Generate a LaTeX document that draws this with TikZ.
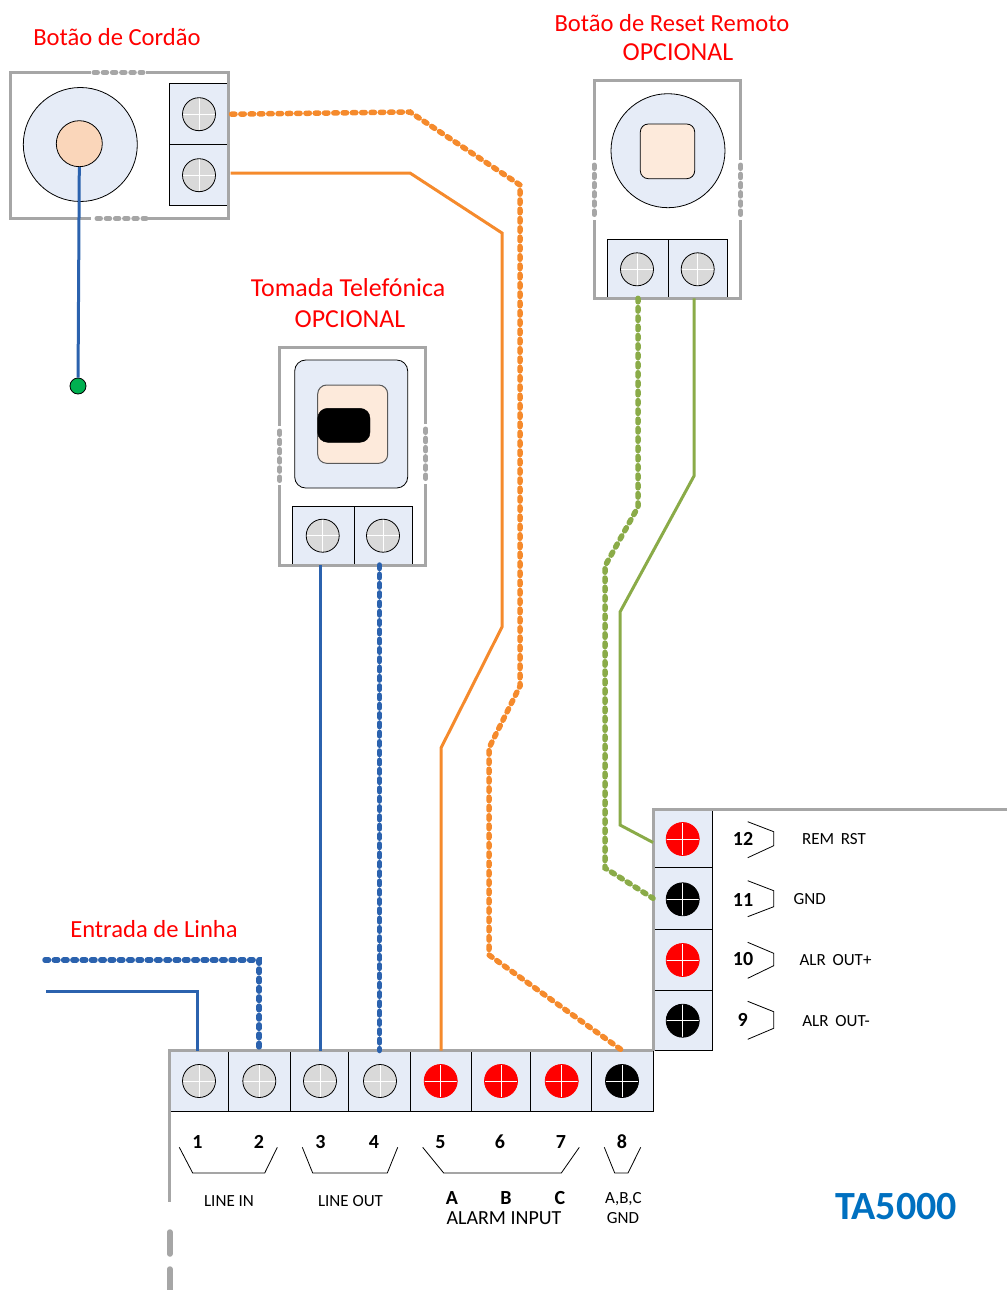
\documentclass[tikz,border=0pt]{standalone}
\usepackage{fontspec}
\setmainfont{Carlito}
\definecolor{framegray}{HTML}{A6A6A6}
\definecolor{panelblue}{HTML}{E6ECF7}
\definecolor{knobpeach}{HTML}{FAD6BA}
\definecolor{palepeach}{HTML}{FDEADB}
\definecolor{screwgray}{HTML}{D9D9D9}
\definecolor{wireorange}{HTML}{F58A2C}
\definecolor{wireblue}{HTML}{2B62AE}
\definecolor{wiregreen}{HTML}{8AAB48}
\definecolor{brandblue}{HTML}{0070C0}
\definecolor{dotgreen}{HTML}{00B050}
\tikzset{
	frame/.style={line width=3pt, color=framegray},
	hinge/.style={line width=5pt, line cap=round, dash pattern=on 3.5pt off 5.7pt, color=framegray},
	solidwire/.style={line width=3pt},
	dotwire/.style={line width=5.5pt, line cap=round, dash pattern=on 3.5pt off 5.8pt},
	termbox/.style={draw=black, line width=0.8pt, fill=panelblue, minimum width=#1, minimum height=61, inner sep=0, outer sep=0},
	screw/.style={circle, draw=black, line width=0.8pt, fill=screwgray, minimum size=33, inner sep=0, path picture={
		\draw[white, line width=0.8pt] (path picture bounding box.north) -- (path picture bounding box.south);
		\draw[white, line width=0.8pt] (path picture bounding box.west) -- (path picture bounding box.east);}},
	redscrew/.style={screw, draw=red, fill=red},
	blackscrew/.style={screw, fill=black},
	title/.style={text=red, font=\fontsize{24.6}{24.6}\selectfont, inner sep=0},
	bigtitle/.style={title, font=\fontsize{25.9}{25.9}\selectfont},
	num/.style={font=\bfseries\fontsize{20}{20}\selectfont, inner sep=0},
	tag/.style={font=\fontsize{17}{17}\selectfont, inner sep=0},
	bracket/.style={line width=0.8pt}
}

\begin{document}
\begin{tikzpicture}[x=1pt, y=-1pt]
		%%%%% START %%%%%
		\useasboundingbox (0, 0) rectangle (1007, 1290);
		
		%% cord button
		\node[termbox=59] (cordA) at (199, 114.2) {};
		\node[termbox=59] (cordB) at (199, 175.2) {};
		\node[screw] (cordScrewA) at (cordA) {};
		\node[screw] (cordScrewB) at (cordB) {};
		\draw[frame] (10.5, 72.5) rectangle (228.5, 218.5);
		\draw[line width=4pt, color=white] (91, 72.5) -- (146, 72.5);
		\draw[line width=4pt, color=white] (91, 218.5) -- (146, 218.5);
		\draw[hinge] (94, 72.5) -- (143, 72.5);
		\draw[hinge] (97, 218.5) -- (146, 218.5);
		\node[circle, draw=black, line width=0.8pt, fill=panelblue, minimum size=114, inner sep=0] (cordDisc) at (80.3, 144.5) {};
		\node[circle, draw=black, line width=0.8pt, fill=knobpeach, minimum size=46, inner sep=0] (cordKnob) at (79.3, 143.7) {};
		\node[circle, draw=black, line width=0.8pt, fill=dotgreen, minimum size=16, inner sep=0] (cordEnd) at (78, 386) {};
		\draw[solidwire, color=wireblue] (cordKnob.south) -- (cordEnd);
		
		%% phone socket
		\node[termbox=61.7, minimum height=59] (sockA) at (323.2, 535.5) {};
		\node[termbox=58.7, minimum height=59] (sockB) at (383.4, 535.5) {};
		\node[screw] (sockScrewA) at (322.7, 535.7) {};
		\node[screw] (sockScrewB) at (383, 535.7) {};
		\draw[frame] (279.7, 347.4) rectangle (425.7, 565.7);
		\draw[line width=4pt, color=white] (279.7, 426) -- (279.7, 485);
		\draw[line width=4pt, color=white] (425.7, 424) -- (425.7, 484);
		\draw[hinge] (279.7, 431) -- (279.7, 481);
		\draw[hinge] (425.7, 429) -- (425.7, 479);
		\draw[line width=0.8pt, fill=panelblue, rounded corners=11pt] (294.7, 360) rectangle (407.7, 488);
		\draw[line width=1pt, color=black!65, fill=palepeach, rounded corners=9pt] (317.7, 385) rectangle (387.7, 463.3);
		\draw[fill=black, rounded corners=10pt] (317.7, 408.3) rectangle (370, 442.3);
		
		%% reset button
		\node[termbox=61.5, minimum height=59] (resetA) at (637.7, 268.8) {};
		\node[termbox=58.8, minimum height=59] (resetB) at (697.9, 268.8) {};
		\node[screw] (resetScrewA) at (637, 269.3) {};
		\node[screw] (resetScrewB) at (697.7, 269.3) {};
		\draw[frame] (594, 80.7) rectangle (740.7, 298.3);
		\draw[line width=4pt, color=white] (594, 160) -- (594, 220);
		\draw[line width=4pt, color=white] (740.7, 160) -- (740.7, 220);
		\draw[hinge] (594, 165) -- (594, 215);
		\draw[hinge] (740.7, 165) -- (740.7, 215);
		\node[circle, draw=black, line width=0.8pt, fill=panelblue, minimum size=114, inner sep=0] (resetDisc) at (668, 150.7) {};
		\draw[line width=0.8pt, fill=palepeach, rounded corners=8pt] (640.3, 124) rectangle (694.7, 178.7);
		
		%% bottom strip
		\node[termbox=57.6] (t1) at (199.5, 1081) {};
		\node[termbox=61.7] (t2) at (259.2, 1081) {};
		\node[termbox=58.7] (t3) at (319.4, 1081) {};
		\node[termbox=61.6] (t4) at (379.5, 1081) {};
		\node[termbox=61.4] (t5) at (441, 1081) {};
		\node[termbox=58.6] (t6) at (501, 1081) {};
		\node[termbox=61.4] (t7) at (561, 1081) {};
		\node[termbox=61.3] (t8) at (622.3, 1081) {};
		
		\node[screw] (screw1) at (199, 1081) {};
		\node[screw] (screw2) at (259.3, 1081) {};
		\node[screw] (screw3) at (320, 1081) {};
		\node[screw] (screw4) at (380, 1081) {};
		\node[redscrew] (screw5) at (440.7, 1081) {};
		\node[redscrew] (screw6) at (501, 1081) {};
		\node[redscrew] (screw7) at (561.7, 1081) {};
		\node[blackscrew] (screw8) at (622, 1081) {};
		
		%% right strip
		\node[termbox=59.3, minimum height=58] (t12) at (682.7, 838.5) {};
		\node[termbox=59.3, minimum height=62] (t11) at (682.7, 898.3) {};
		\node[termbox=59.3, minimum height=61.4] (t10) at (682.7, 960) {};
		\node[termbox=59.3, minimum height=59.3] (t9) at (682.7, 1020.4) {};
		
		\node[redscrew] (screw12) at (682.7, 839) {};
		\node[blackscrew] (screw11) at (682.7, 899.3) {};
		\node[redscrew] (screw10) at (682.7, 960) {};
		\node[blackscrew] (screw9) at (682.7, 1020.7) {};
		
		\draw[frame] (1007, 809.5) -- (653, 809.5) -- (653, 1050.7);
		\draw[frame] (653, 1050.7) -- (169.5, 1050.7) -- (169.5, 1201.5);
		\draw[line width=5.5pt, line cap=round, color=framegray] (169.8, 1232) -- (169.8, 1254);
		\draw[line width=5.5pt, line cap=round, color=framegray] (169.8, 1269) -- (169.8, 1295);
		
		%% wires
		\coordinate (lineInA) at (46, 991);
		\coordinate (lineInB) at (45, 960);
		\draw[solidwire, color=wireblue] (lineInA) -- (197.5, 991) -- ([xshift=-2pt]t1.north);
		\draw[dotwire, color=wireblue] (lineInB) -- (259.2, 960) -- (t2.north);
		\draw[solidwire, color=wireblue] ([xshift=-2.8pt]sockA.south) -- ([xshift=1pt]t3.north);
		\draw[dotwire, color=wireblue] ([xshift=-3.9pt]sockB.south) -- (t4.north);
		
		\draw[solidwire, color=wireorange] ([xshift=2pt, yshift=2.2pt]cordB.east) -- (410, 173) -- (502, 233) -- (502, 627) -- (441, 748) -- (t5.north);
		\draw[dotwire, color=wireorange] ([xshift=3pt]cordA.east) -- (410, 112) -- (520, 185) -- (520, 686) -- (489, 748) -- (489, 955) -- (t8.north);
		
		\draw[solidwire, color=wiregreen] ([xshift=-3.9pt]resetB.south) -- (694, 476) -- (620, 612) -- (620, 825) -- ([yshift=-4pt]t12.west);
		\draw[dotwire, color=wiregreen] ([xshift=0.3pt]resetA.south) -- (638, 507) -- (605, 566) -- (605, 868) -- (t11.west);
		
		%% numbers under the strip
		\node[num] (n1) at (197.5, 1142) {1};
		\node[num] (n2) at (259, 1142) {2};
		\node[num] (n3) at (320.5, 1142) {3};
		\node[num] (n4) at (374, 1142) {4};
		\node[num] (n5) at (440.5, 1142) {5};
		\node[num] (n6) at (500, 1142) {6};
		\node[num] (n7) at (561, 1142) {7};
		\node[num] (n8) at (622, 1142) {8};
		
		\draw[bracket] (179.3, 1147.3) -- (192.7, 1173) -- (264.7, 1173) -- (277.3, 1147.3);
		\draw[bracket] (302.3, 1147.3) -- (312.7, 1173) -- (387.3, 1173) -- (397.7, 1147.3);
		\draw[bracket] (422.7, 1147.3) -- (443.7, 1173) -- (561.3, 1173) -- (579.3, 1147.3);
		\draw[bracket] (604.3, 1147.3) -- (614.7, 1173) -- (628, 1173) -- (640.7, 1147.3);
		
		\node[tag] (lineIn) at (229, 1201) {LINE IN};
		\node[tag] (lineOut) at (350.5, 1201) {LINE OUT};
		\node[num] (inA) at (452, 1198) {A};
		\node[num] (inB) at (506, 1198) {B};
		\node[num] (inC) at (560, 1198) {C};
		\node[tag, font=\fontsize{20}{20}\selectfont] (alarmIn) at (504, 1218) {ALARM INPUT};
		\node[tag] (abcGnd) at (623.5, 1199) {A,B,C};
		\node[tag] (gndTag) at (623, 1218) {GND};
		
		%% numbers beside the strip
		\node[num] (n12) at (743, 839) {12};
		\node[num] (n11) at (743, 900) {11};
		\node[num] (n10) at (743, 959) {10};
		\node[num] (n9) at (742.7, 1020) {9};
		
		\draw[bracket] (747.7, 821.7) -- (773.7, 831.7) -- (773.7, 845.7) -- (747.7, 857.7);
		\draw[bracket] (747.7, 880.7) -- (773.7, 890.7) -- (773.7, 906.7) -- (747.7, 916.7);
		\draw[bracket] (747.7, 942.3) -- (773.7, 953.3) -- (773.7, 965.7) -- (747.7, 978.3);
		\draw[bracket] (747.7, 1001.3) -- (773.7, 1011.7) -- (773.7, 1028.3) -- (747.7, 1039.3);
		
		\node[tag] (remRst) at (834, 839.5) {REM\hspace{3pt} RST};
		\node[tag] (gndOut) at (809.7, 898.7) {GND};
		\node[tag] (alrPlus) at (835.5, 959.7) {ALR\hspace{3pt} OUT+};
		\node[tag] (alrMinus) at (836, 1021.5) {ALR\hspace{3pt} OUT-};
		
		%% titles
		\node[title] (cordTitle) at (117, 37) {Botão de Cordão};
		\node[title] (resetTitle) at (672, 23) {Botão de Reset Remoto};
		\node[bigtitle] (resetOpt) at (678, 52) {OPCIONAL};
		\node[bigtitle] (sockTitle) at (348, 288) {Tomada Telefónica};
		\node[bigtitle] (sockOpt) at (350, 319) {OPCIONAL};
		\node[title] (lineTitle) at (154, 929) {Entrada de Linha};
		\node[text=brandblue, font=\bfseries\fontsize{40}{40}\selectfont, inner sep=0] (brand) at (896, 1207) {TA5000};
		
		%%%%% END %%%%%
	\end{tikzpicture}
\end{document}
